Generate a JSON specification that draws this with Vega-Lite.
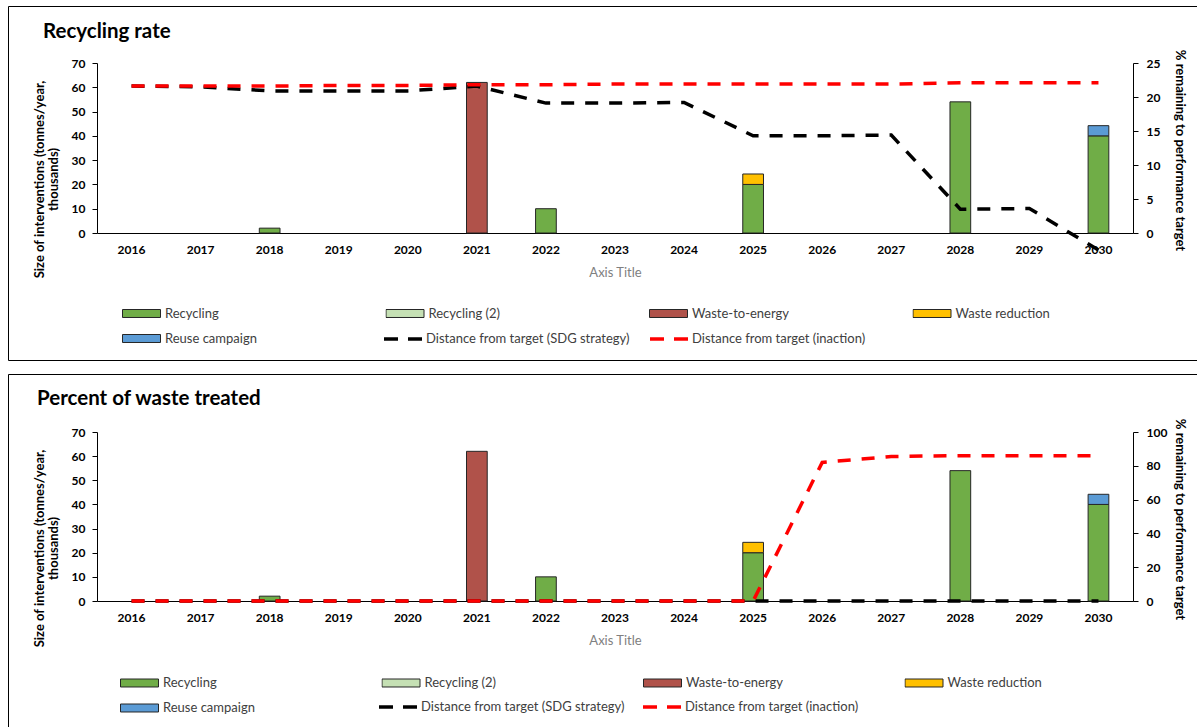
{
  "$schema": "https://vega.github.io/schema/vega-lite/v6.json",
  "padding": {"left": 7, "top": 5, "right": 0, "bottom": 0},
  "spacing": 12,
  "datasets": {
    "bars": [
      {"year": "2018", "type": "Recycling", "value": 2},
      {"year": "2021", "type": "Waste-to-energy", "value": 62},
      {"year": "2022", "type": "Recycling", "value": 10},
      {"year": "2025", "type": "Recycling", "value": 20},
      {"year": "2025", "type": "Waste reduction", "value": 4.3},
      {"year": "2028", "type": "Recycling", "value": 54},
      {"year": "2030", "type": "Recycling", "value": 40},
      {"year": "2030", "type": "Reuse campaign", "value": 4.2}
    ],
    "recycling_rate": [
      {"year": "2016", "series": "Distance from target (SDG strategy)", "value": 21.6},
      {"year": "2017", "series": "Distance from target (SDG strategy)", "value": 21.5},
      {"year": "2018", "series": "Distance from target (SDG strategy)", "value": 20.9},
      {"year": "2019", "series": "Distance from target (SDG strategy)", "value": 20.9},
      {"year": "2020", "series": "Distance from target (SDG strategy)", "value": 20.9},
      {"year": "2021", "series": "Distance from target (SDG strategy)", "value": 21.6},
      {"year": "2022", "series": "Distance from target (SDG strategy)", "value": 19.1},
      {"year": "2023", "series": "Distance from target (SDG strategy)", "value": 19.1},
      {"year": "2024", "series": "Distance from target (SDG strategy)", "value": 19.2},
      {"year": "2025", "series": "Distance from target (SDG strategy)", "value": 14.3},
      {"year": "2026", "series": "Distance from target (SDG strategy)", "value": 14.3},
      {"year": "2027", "series": "Distance from target (SDG strategy)", "value": 14.4},
      {"year": "2028", "series": "Distance from target (SDG strategy)", "value": 3.5},
      {"year": "2029", "series": "Distance from target (SDG strategy)", "value": 3.6},
      {"year": "2030", "series": "Distance from target (SDG strategy)", "value": -2.5},
      {"year": "2016", "series": "Distance from target (inaction)", "value": 21.6},
      {"year": "2017", "series": "Distance from target (inaction)", "value": 21.6},
      {"year": "2018", "series": "Distance from target (inaction)", "value": 21.6},
      {"year": "2019", "series": "Distance from target (inaction)", "value": 21.7},
      {"year": "2020", "series": "Distance from target (inaction)", "value": 21.7},
      {"year": "2021", "series": "Distance from target (inaction)", "value": 21.8},
      {"year": "2022", "series": "Distance from target (inaction)", "value": 21.8},
      {"year": "2023", "series": "Distance from target (inaction)", "value": 21.9},
      {"year": "2024", "series": "Distance from target (inaction)", "value": 21.9},
      {"year": "2025", "series": "Distance from target (inaction)", "value": 21.9},
      {"year": "2026", "series": "Distance from target (inaction)", "value": 21.9},
      {"year": "2027", "series": "Distance from target (inaction)", "value": 21.9},
      {"year": "2028", "series": "Distance from target (inaction)", "value": 22.1},
      {"year": "2029", "series": "Distance from target (inaction)", "value": 22.1},
      {"year": "2030", "series": "Distance from target (inaction)", "value": 22.1}
    ],
    "waste_treated": [
      {"year": "2016", "series": "Distance from target (SDG strategy)", "value": 0},
      {"year": "2017", "series": "Distance from target (SDG strategy)", "value": 0},
      {"year": "2018", "series": "Distance from target (SDG strategy)", "value": 0},
      {"year": "2019", "series": "Distance from target (SDG strategy)", "value": 0},
      {"year": "2020", "series": "Distance from target (SDG strategy)", "value": 0},
      {"year": "2021", "series": "Distance from target (SDG strategy)", "value": 0},
      {"year": "2022", "series": "Distance from target (SDG strategy)", "value": 0},
      {"year": "2023", "series": "Distance from target (SDG strategy)", "value": 0},
      {"year": "2024", "series": "Distance from target (SDG strategy)", "value": 0},
      {"year": "2025", "series": "Distance from target (SDG strategy)", "value": 0},
      {"year": "2026", "series": "Distance from target (SDG strategy)", "value": 0},
      {"year": "2027", "series": "Distance from target (SDG strategy)", "value": 0},
      {"year": "2028", "series": "Distance from target (SDG strategy)", "value": 0},
      {"year": "2029", "series": "Distance from target (SDG strategy)", "value": 0},
      {"year": "2030", "series": "Distance from target (SDG strategy)", "value": 0},
      {"year": "2016", "series": "Distance from target (inaction)", "value": 0},
      {"year": "2017", "series": "Distance from target (inaction)", "value": 0},
      {"year": "2018", "series": "Distance from target (inaction)", "value": 0},
      {"year": "2019", "series": "Distance from target (inaction)", "value": 0},
      {"year": "2020", "series": "Distance from target (inaction)", "value": 0},
      {"year": "2021", "series": "Distance from target (inaction)", "value": 0},
      {"year": "2022", "series": "Distance from target (inaction)", "value": 0},
      {"year": "2023", "series": "Distance from target (inaction)", "value": 0},
      {"year": "2024", "series": "Distance from target (inaction)", "value": 0},
      {"year": "2025", "series": "Distance from target (inaction)", "value": 0},
      {"year": "2026", "series": "Distance from target (inaction)", "value": 82},
      {"year": "2027", "series": "Distance from target (inaction)", "value": 85.5},
      {"year": "2028", "series": "Distance from target (inaction)", "value": 86},
      {"year": "2029", "series": "Distance from target (inaction)", "value": 86},
      {"year": "2030", "series": "Distance from target (inaction)", "value": 86}
    ]
  },
  "vconcat": [
    {
      "width": 1200,
      "height": 354,
      "title": {"text": "Recycling rate", "anchor": "start", "frame": "group", "offset": -52, "dx": 35, "baseline": "alphabetic", "fontSize": 20.5, "fontWeight": "bold", "color": "#000000"},
      "layer": [
        {
          "data": {"name": "bars"},
          "mark": {"type": "bar", "width": {"band": 0.3}, "stroke": "#262626", "strokeWidth": 1},
          "encoding": {
            "x": {
              "field": "year", "type": "ordinal",
              "scale": {"domain": ["2016","2017","2018","2019","2020","2021","2022","2023","2024","2025","2026","2027","2028","2029","2030"], "range": [89, 1125], "paddingInner": 0, "paddingOuter": 0},
              "axis": {"orient": "bottom", "offset": -127, "title": "Axis Title", "titleColor": "#808080", "titleFontWeight": "normal", "titleFontSize": 13, "titleX": 607, "titleY": 39, "titleBaseline": "middle", "titleAlign": "center", "labelAngle": 0, "labelPadding": 11, "ticks": false, "tickSize": 0}
            },
            "y": {
              "field": "value", "type": "quantitative", "stack": "zero",
              "scale": {"domain": [0, 70], "range": [227, 57], "nice": false},
              "axis": {"orient": "left", "offset": -89, "values": [0,10,20,30,40,50,60,70], "title": ["Size of interventions (tonnes/year,", "thousands)"], "titleX": -58, "titleY": 173, "titleBaseline": "middle", "titleAlign": "center", "titleAngle": -90, "titleLineHeight": 14, "labelPadding": 7, "tickSize": 5}
            },
            "order": {"field": "type", "sort": "ascending"},
            "fill": {
              "field": "type", "type": "nominal",
              "scale": {"domain": ["Recycling", "Recycling (2)", "Waste-to-energy", "Waste reduction", "Reuse campaign"], "range": ["#70AD47", "#C5E0B4", "#B0524A", "#FFC000", "#5B9BD5"]},
              "legend": {"orient": "none", "legendX": 114, "legendY": 295, "direction": "horizontal", "columns": 4, "title": null, "symbolType": "M-1,-0.21H1V0.21H-1Z", "symbolSize": 1444, "symbolStrokeColor": "#262626", "symbolStrokeWidth": 1, "labelOffset": 4, "columnPadding": 123.5, "rowPadding": 0, "clipHeight": 25, "gridAlign": "all", "padding": 0}
            }
          }
        },
        {
          "data": {"name": "recycling_rate"},
          "layer": [
            {
              "transform": [{"filter": "datum.series === 'Distance from target (SDG strategy)'"}],
              "mark": {"type": "line", "strokeDash": [13, 11], "strokeWidth": 3.5, "interpolate": "linear"},
              "encoding": {
                "x": {"field": "year", "type": "ordinal"},
                "y": {
                  "field": "value", "type": "quantitative",
                  "scale": {"domain": [0, 25], "range": [227, 57], "nice": false},
                  "axis": {"orient": "right", "offset": -75, "values": [0,5,10,15,20,25], "title": "% remaining to performance target", "titleX": 46, "titleY": 144, "titleBaseline": "middle", "titleAlign": "center", "titleAngle": 90, "labelPadding": 8, "tickSize": 5}
                },
                "stroke": {
                  "field": "series", "type": "nominal",
                  "scale": {"domain": ["Distance from target (SDG strategy)", "Distance from target (inaction)"], "range": ["#000000", "#FF0000"]},
                  "legend": {"orient": "none", "legendX": 374, "legendY": 312, "direction": "horizontal", "columns": 2, "title": null, "symbolType": "stroke", "symbolSize": 1444, "symbolStrokeWidth": 3.5, "symbolDash": [14, 10], "labelOffset": 2, "columnPadding": 13, "gridAlign": "all", "padding": 0}
                }
              }
            },
            {
              "transform": [{"filter": "datum.series === 'Distance from target (inaction)'"}],
              "mark": {"type": "line", "strokeDash": [13, 11], "strokeWidth": 3.5, "interpolate": "linear"},
              "encoding": {
                "x": {"field": "year", "type": "ordinal"},
                "y": {"field": "value", "type": "quantitative"},
                "stroke": {"field": "series", "type": "nominal"}
              }
            }
          ]
        }
      ],
      "resolve": {"scale": {"y": "independent"}}
    },
    {
      "width": 1200,
      "height": 354,
      "title": {"text": "Percent of waste treated", "anchor": "start", "frame": "group", "offset": -51, "dx": 29, "baseline": "alphabetic", "fontSize": 20.5, "fontWeight": "bold", "color": "#000000"},
      "layer": [
        {
          "data": {"name": "bars"},
          "mark": {"type": "bar", "width": {"band": 0.3}, "stroke": "#262626", "strokeWidth": 1},
          "encoding": {
            "x": {
              "field": "year", "type": "ordinal",
              "scale": {"domain": ["2016","2017","2018","2019","2020","2021","2022","2023","2024","2025","2026","2027","2028","2029","2030"], "range": [89, 1125], "paddingInner": 0, "paddingOuter": 0},
              "axis": {"orient": "bottom", "offset": -127, "title": "Axis Title", "titleColor": "#808080", "titleFontWeight": "normal", "titleFontSize": 13, "titleX": 607, "titleY": 39, "titleBaseline": "middle", "titleAlign": "center", "labelAngle": 0, "labelPadding": 11, "ticks": false, "tickSize": 0}
            },
            "y": {
              "field": "value", "type": "quantitative", "stack": "zero",
              "scale": {"domain": [0, 70], "range": [227, 58], "nice": false},
              "axis": {"orient": "left", "offset": -89, "values": [0,10,20,30,40,50,60,70], "title": ["Size of interventions (tonnes/year,", "thousands)"], "titleX": -58, "titleY": 174, "titleBaseline": "middle", "titleAlign": "center", "titleAngle": -90, "titleLineHeight": 14, "labelPadding": 7, "tickSize": 5}
            },
            "order": {"field": "type", "sort": "ascending"},
            "fill": {
              "field": "type", "type": "nominal",
              "scale": {"domain": ["Recycling", "Recycling (2)", "Waste-to-energy", "Waste reduction", "Reuse campaign"], "range": ["#70AD47", "#C5E0B4", "#B0524A", "#FFC000", "#5B9BD5"]},
              "legend": {"orient": "none", "legendX": 112, "legendY": 296.5, "direction": "horizontal", "columns": 4, "title": null, "symbolType": "M-1,-0.21H1V0.21H-1Z", "symbolSize": 1444, "symbolStrokeColor": "#262626", "symbolStrokeWidth": 1, "labelOffset": 4, "columnPadding": 121.5, "rowPadding": 0, "clipHeight": 25, "gridAlign": "all", "padding": 0}
            }
          }
        },
        {
          "data": {"name": "waste_treated"},
          "layer": [
            {
              "transform": [{"filter": "datum.series === 'Distance from target (SDG strategy)'"}],
              "mark": {"type": "line", "strokeDash": [13, 11], "strokeWidth": 3.5, "interpolate": "linear"},
              "encoding": {
                "x": {"field": "year", "type": "ordinal"},
                "y": {
                  "field": "value", "type": "quantitative",
                  "scale": {"domain": [0, 100], "range": [227, 58], "nice": false},
                  "axis": {"orient": "right", "offset": -75, "values": [0,20,40,60,80,100], "title": "% remaining to performance target", "titleX": 46, "titleY": 145, "titleBaseline": "middle", "titleAlign": "center", "titleAngle": 90, "labelPadding": 8, "tickSize": 5}
                },
                "stroke": {
                  "field": "series", "type": "nominal",
                  "scale": {"domain": ["Distance from target (SDG strategy)", "Distance from target (inaction)"], "range": ["#000000", "#FF0000"]},
                  "legend": {"orient": "none", "legendX": 369, "legendY": 312, "direction": "horizontal", "columns": 2, "title": null, "symbolType": "stroke", "symbolSize": 1444, "symbolStrokeWidth": 3.5, "symbolDash": [14, 10], "labelOffset": 2, "columnPadding": 11, "gridAlign": "all", "padding": 0}
                }
              }
            },
            {
              "transform": [{"filter": "datum.series === 'Distance from target (inaction)'"}],
              "mark": {"type": "line", "strokeDash": [13, 11], "strokeWidth": 3.5, "interpolate": "linear"},
              "encoding": {
                "x": {"field": "year", "type": "ordinal"},
                "y": {"field": "value", "type": "quantitative"},
                "stroke": {"field": "series", "type": "nominal"}
              }
            }
          ]
        }
      ],
      "resolve": {"scale": {"y": "independent"}}
    }
  ],
  "resolve": {
    "scale": {"x": "independent", "y": "independent", "fill": "independent", "stroke": "independent"},
    "legend": {"fill": "independent", "stroke": "independent"}
  },
  "config": {
    "font": "Lato",
    "view": {"stroke": "#000000", "strokeWidth": 1},
    "title": {"font": "Lato"},
    "axis": {
      "labelFont": "Lato", "labelFontSize": 12, "labelFontWeight": "bold", "labelColor": "#000000",
      "titleFont": "Lato", "titleFontSize": 13, "titleFontWeight": "bold", "titleColor": "#000000",
      "domainColor": "#000000", "domainWidth": 1, "tickColor": "#000000", "tickWidth": 1, "grid": false
    },
    "legend": {"labelFont": "Lato", "labelFontSize": 13, "labelColor": "#404040", "labelLimit": 400}
  }
}
